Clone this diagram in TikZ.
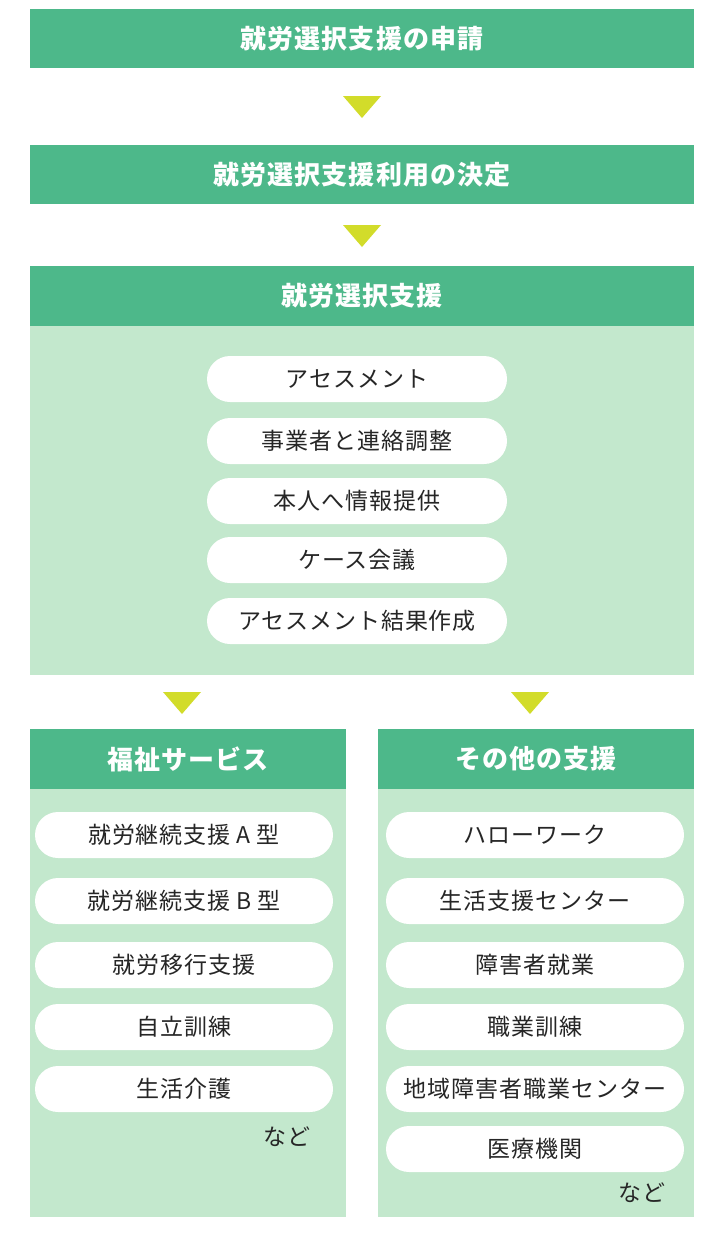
\documentclass[tikz,border=0pt]{standalone}
\usepackage{fontspec}
\newfontfamily\cjk{Noto Sans CJK JP}[LetterSpace=4]
\definecolor{gr}{HTML}{4DB88A}
\definecolor{lg}{HTML}{C3E8CD}
\definecolor{yl}{HTML}{D2DC2A}
\begin{document}
\begin{tikzpicture}[x=1pt,y=-1pt,
  hdr/.style={fill=none,draw=none,inner sep=0,font=\cjk\bfseries\fontsize{26}{30}\selectfont,text=white},
  pill/.style={fill=none,draw=none,inner sep=0,font=\cjk\fontsize{23}{27}\selectfont,text=black!85},
  tri/.style={fill=yl,draw=none}]
\useasboundingbox (0,0) rectangle (720,1240);
\fill[white] (0,0) rectangle (720,1240);
% top bars
\fill[gr] (30,9) rectangle (694,68);
\node[hdr] (h1) at (362,38.5) {就労選択支援の申請};
\fill[tri] (343,96) -- (381,96) -- (362,118) -- cycle;
\fill[gr] (30,145) rectangle (694,204);
\node[hdr] (h2) at (362,174.5) {就労選択支援利用の決定};
\fill[tri] (343,225) -- (381,225) -- (362,247) -- cycle;
% main panel
\fill[lg] (30,326) rectangle (694,675);
\fill[gr] (30,266) rectangle (694,326);
\node[hdr] (h3) at (362,296) {就労選択支援};
\foreach \t/\y in {アセスメント/356,事業者と連絡調整/418,本人へ情報提供/478,ケース会議/537,アセスメント結果作成/598}{
  \fill[white,rounded corners=23pt] (207,\y) rectangle (507,\y+46);
  \node[pill] at (357,\y+23) {\t};
}
\fill[tri] (163,692) -- (201,692) -- (182,714) -- cycle;
\fill[tri] (511,692) -- (549,692) -- (530,714) -- cycle;
% left
\fill[lg] (30,789) rectangle (346,1217);
\fill[gr] (30,729) rectangle (346,789);
\node[hdr] (hl) at (188,759) {福祉サービス};
\foreach \t/\y in {就労継続支援 A 型/812,就労継続支援 B 型/878,就労移行支援/942,自立訓練/1004,生活介護/1066}{
  \fill[white,rounded corners=23pt] (35,\y) rectangle (333,\y+46);
  \node[pill] at (184,\y+23) {\t};
}
\node[pill] (nl) at (287,1137) {など};
% right
\fill[lg] (378,789) rectangle (694,1217);
\fill[gr] (378,729) rectangle (694,789);
\node[hdr] (hr) at (536,759) {その他の支援};
\foreach \t/\y in {ハローワーク/812,生活支援センター/878,障害者就業/942,職業訓練/1004,地域障害者職業センター/1066,医療機関/1126}{
  \fill[white,rounded corners=23pt] (386,\y) rectangle (684,\y+46);
  \node[pill] at (535,\y+23) {\t};
}
\node[pill] (nr) at (642,1193) {など};
\end{tikzpicture}
\end{document}
